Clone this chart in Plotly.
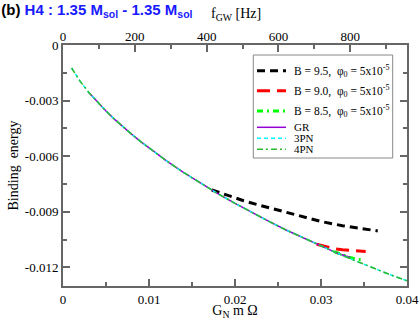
import plotly.graph_objects as go

# G_N m Omega and binding energy
omega_pn = [0.001, 0.002, 0.003, 0.004, 0.005, 0.006, 0.007, 0.008, 0.009, 0.010,
            0.012, 0.014, 0.016, 0.018, 0.020, 0.022, 0.024, 0.026, 0.028, 0.030,
            0.032, 0.034, 0.036, 0.038, 0.040]
e_3pn = [-0.00124, -0.00196, -0.00256, -0.00308, -0.00356, -0.00401, -0.00443, -0.00482, -0.00520, -0.00556,
         -0.00624, -0.00687, -0.00746, -0.00802, -0.00854, -0.00905, -0.00953, -0.00999, -0.01042, -0.01085,
         -0.01125, -0.01164, -0.01202, -0.01238, -0.01272]
e_4pn = [-0.00124, -0.00196, -0.00256, -0.00308, -0.00356, -0.00401, -0.00443, -0.00482, -0.00520, -0.00556,
         -0.00624, -0.00687, -0.00746, -0.00802, -0.00854, -0.00905, -0.00953, -0.00999, -0.01042, -0.01085,
         -0.01125, -0.01164, -0.01202, -0.01238, -0.01272]

omega_gr = [0.003, 0.004, 0.005, 0.006, 0.007, 0.008, 0.009, 0.010, 0.012, 0.014,
            0.016, 0.018, 0.020, 0.022, 0.024, 0.026, 0.028, 0.030, 0.032, 0.0334]
e_gr = [-0.00256, -0.00308, -0.00356, -0.00401, -0.00443, -0.00482, -0.00520, -0.00556, -0.00624, -0.00687,
        -0.00746, -0.00802, -0.00854, -0.00905, -0.00953, -0.00999, -0.01042, -0.01085, -0.01125, -0.01146]

omega_b95 = [0.0173, 0.019, 0.021, 0.023, 0.025, 0.0275, 0.030, 0.0325, 0.035, 0.0366]
e_b95 = [-0.00782, -0.00810, -0.00840, -0.00866, -0.00890, -0.00920, -0.00952, -0.00975, -0.00993, -0.01003]

omega_b90 = [0.0295, 0.0305, 0.0315, 0.0325, 0.0335, 0.0345, 0.0352]
e_b90 = [-0.01075, -0.01089, -0.01099, -0.01105, -0.01109, -0.01112, -0.01114]

omega_b85 = [0.0315, 0.0325, 0.0335, 0.0342, 0.0349]
e_b85 = [-0.01115, -0.01133, -0.01148, -0.01155, -0.01160]

y_ticks = [0, -0.003, -0.006, -0.009, -0.012]
y_ticklabels = ["0", "-0.003", "-0.006", "-0.009", "-0.012"]
x_ticks = [0, 0.01, 0.02, 0.03, 0.04]
x_ticklabels = ["0", "0.01", "0.02", "0.03", "0.04"]
f_ticks = [0, 200, 400, 600, 800]

serif = "Liberation Serif"
phi = "B = %s,  \u03c6<sub>0</sub> = 5x10<sup>-5</sup>"

# plot area in pixels
W, H = 420, 320
L, R, T, B = 63, 13, 45, 34


def px(x):
    return (x - L) / (W - L - R)


def py(y):
    return (H - B - y) / (H - T - B)


series = [
    (omega_b95, e_b95, phi % "9.5", dict(color="black", width=3, dash="8px,5px")),
    (omega_b90, e_b90, phi % "9.0", dict(color="#ff0000", width=3, dash="13px,7px")),
    (omega_b85, e_b85, phi % "8.5", dict(color="#00ff00", width=3, dash="6px,4px,2px,4px")),
    (omega_gr, e_gr, "GR", dict(color="#9400d3", width=1.5)),
    (omega_pn, e_3pn, "3PN", dict(color="#00ffff", width=1.5, dash="4px,3px")),
    (omega_pn, e_4pn, "4PN", dict(color="#2eb82e", width=1.5, dash="6px,3px,2px,3px")),
]
legend_rows = [70.7, 90.7, 111, 127.3, 138.3, 149.3]
legend_sizes = [11.5, 11.5, 11.5, 11, 11, 11]

fig = go.Figure()
shapes = [dict(type="rect", xref="paper", yref="paper", x0=px(253.3), x1=px(392.7),
               y0=py(158), y1=py(55), line=dict(color="#888888", width=1), fillcolor="white",
               layer="above")]
annotations = []
for (xs, ys, name, line), ry, fs in zip(series, legend_rows, legend_sizes):
    fig.add_trace(go.Scatter(x=xs, y=ys, mode="lines", name=name, line=line, showlegend=False))
    shapes.append(dict(type="line", xref="paper", yref="paper", x0=px(257), x1=px(286),
                       y0=py(ry), y1=py(ry), line=line, layer="above"))
    annotations.append(dict(text=name, xref="paper", yref="paper", x=px(292), y=py(ry),
                            xanchor="left", yanchor="middle", showarrow=False,
                            font=dict(family=serif, size=fs, color="black")))

# empty trace so the top f_GW axis is drawn
fig.add_trace(go.Scatter(x=[], y=[], xaxis="x2", showlegend=False))

annotations.append(dict(text="f<sub>GW</sub> [Hz]", xref="paper", yref="paper",
                        x=px(209), y=py(14), xanchor="left", yanchor="middle",
                        showarrow=False, font=dict(family=serif, size=14, color="black")))

axcol = "#666666"
tickfont = dict(family=serif, size=13, color="black")
fig.update_layout(
    width=W, height=H,
    margin=dict(l=L, r=R, t=T, b=B),
    plot_bgcolor="white", paper_bgcolor="white",
    font=dict(family=serif, size=13, color="black"),
    showlegend=False,
    title=dict(text="<b><span style='color:black'>(b)</span> H4 : 1.35 M<sub>sol</sub> - 1.35 M<sub>sol</sub></b>",
               font=dict(family="Liberation Sans", size=15, color="#1a1aff"),
               xref="container", yref="container", x=0.003, xanchor="left", y=0.97, yanchor="middle"),
    xaxis=dict(range=[0, 0.04], tickvals=x_ticks, ticktext=x_ticklabels, tickfont=tickfont,
               ticks="inside", ticklen=7, tickwidth=1.5, tickcolor=axcol,
               minor=dict(dtick=0.005, tick0=0, ticks="inside", ticklen=4, tickcolor=axcol),
               showline=True, linecolor=axcol, linewidth=2, mirror=True,
               showgrid=False, zeroline=False, automargin=False,
               title=dict(text="G<sub>N</sub> m \u03a9", standoff=3, font=dict(family=serif, size=14))),
    xaxis2=dict(range=[0, 958], overlaying="x", side="top", anchor="y",
                tickvals=f_ticks, tickfont=tickfont, ticks="inside", ticklen=7, tickwidth=1.5, tickcolor=axcol,
                minor=dict(dtick=100, tick0=0, ticks="inside", ticklen=4, tickcolor=axcol),
                showline=False, showgrid=False, zeroline=False, automargin=False),
    yaxis=dict(range=[-0.013, 0], tickvals=y_ticks, ticktext=y_ticklabels, tickfont=tickfont,
               ticks="inside", ticklen=7, tickwidth=1.5, tickcolor=axcol,
               minor=dict(dtick=0.0015, tick0=0, ticks="inside", ticklen=4, tickcolor=axcol),
               showline=True, linecolor=axcol, linewidth=2, mirror="ticks",
               showgrid=False, zeroline=False, automargin=False,
               title=dict(text="Binding  energy", standoff=3, font=dict(family=serif, size=14))),
    shapes=shapes,
    annotations=annotations,
)

# drop the default 8px page margin so the figure sits at the window's corner
fig.write_html("out.html", config={"displayModeBar": False},
               post_script="document.body.style.margin='0';")
